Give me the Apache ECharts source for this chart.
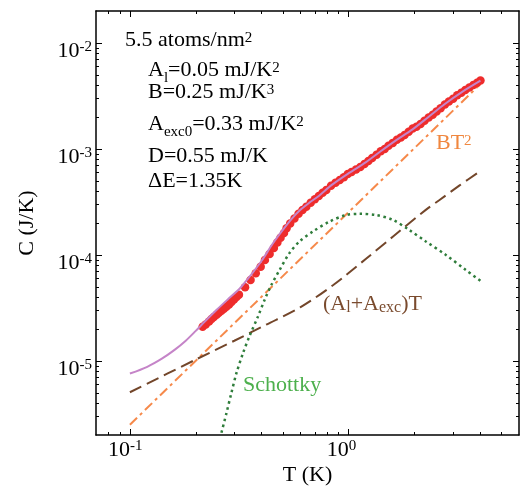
<!DOCTYPE html>
<html lang="en">
<head>
<meta charset="UTF-8">
<title>C(T) 5.5 atoms/nm2</title>
<style>
  html, body { margin: 0; padding: 0; background: #fff; }
  #chart { width: 521px; height: 491px; }
</style>
</head>
<body>
<div id="chart"></div>
<script src="https://cdn.jsdelivr.net/npm/echarts@6/dist/echarts.min.js"></script>
<script>
// measured heat capacity (red dots)
var dataT = [0.215, 0.222, 0.230, 0.236, 0.242, 0.249, 0.255, 0.262, 0.269, 0.276, 0.284, 0.291, 0.299, 0.307, 0.315,
  0.336, 0.356, 0.376, 0.396, 0.414, 0.435, 0.455, 0.472, 0.488, 0.506,
  0.52, 0.54, 0.565, 0.59, 0.615, 0.64, 0.67, 0.70, 0.73, 0.76, 0.79, 0.83, 0.87, 0.91, 0.95, 0.99,
  1.03, 1.08, 1.13, 1.18, 1.23, 1.28, 1.34, 1.40, 1.46, 1.52, 1.59, 1.66, 1.73, 1.80, 1.88, 1.96,
  2.04, 2.13, 2.22, 2.32, 2.42, 2.52, 2.63, 2.75, 2.87, 3.0, 3.13, 3.27, 3.41, 3.56, 3.71, 3.86, 4.0];
var dataC = [2.1e-5, 2.2e-5, 2.36e-5, 2.48e-5, 2.6e-5, 2.72e-5, 2.84e-5, 2.97e-5, 3.1e-5, 3.25e-5, 3.4e-5, 3.59e-5, 3.79e-5, 4.01e-5, 4.22e-5,
  4.95e-5, 5.8e-5, 6.7e-5, 7.75e-5, 8.95e-5, 1.02e-4, 1.16e-4, 1.31e-4, 1.45e-4, 1.61e-4,
  1.78e-4, 1.98e-4, 2.2e-4, 2.45e-4, 2.65e-4, 2.85e-4, 3.1e-4, 3.35e-4, 3.6e-4, 3.85e-4, 4.1e-4, 4.5e-4, 4.8e-4, 5.1e-4, 5.4e-4, 5.8e-4,
  6.05e-4, 6.4e-4, 6.75e-4, 7.2e-4, 7.7e-4, 8.2e-4, 8.8e-4, 9.5e-4, 1.0e-3, 1.07e-3, 1.14e-3, 1.22e-3, 1.28e-3, 1.35e-3, 1.45e-3, 1.56e-3,
  1.62e-3, 1.72e-3, 1.84e-3, 1.98e-3, 2.1e-3, 2.25e-3, 2.42e-3, 2.62e-3, 2.8e-3, 2.98e-3, 3.2e-3, 3.38e-3, 3.6e-3, 3.8e-3, 4.0e-3, 4.2e-3, 4.42e-3];

// total fit (purple)
var fitT = [0.1, 0.12, 0.14, 0.16, 0.18, 0.2, 0.22, 0.25, 0.28, 0.32, 0.36, 0.4, 0.45, 0.5, 0.55, 0.6, 0.66, 0.73, 0.84, 1.0, 1.2, 1.4, 1.65, 1.95, 2.3, 2.75, 3.3, 4.0];
var fitC = [7.6e-6, 8.8e-6, 1.05e-5, 1.27e-5, 1.55e-5, 1.92e-5, 2.35e-5, 3.05e-5, 3.8e-5, 4.9e-5, 6.6e-5, 8.8e-5, 1.28e-4, 1.72e-4, 2.2e-4, 2.65e-4, 3.1e-4, 3.6e-4, 4.6e-4, 5.9e-4, 7.5e-4, 9.5e-4, 1.21e-3, 1.52e-3, 1.98e-3, 2.65e-3, 3.45e-3, 4.4e-3];

// BT^2 (orange dash-dot)
var bT = [0.1, 4.0];
var bC = [2.5e-6, 4.1e-3];

// (Al+Aexc)T (brown dashed)
var linT = [0.1, 0.2, 0.3, 0.42, 0.6, 0.85, 1.2, 1.6, 2.25, 2.6, 3.2, 4.0];
var linC = [5.06e-6, 1.03e-5, 1.55e-5, 2.2e-5, 3.2e-5, 5.2e-5, 9.2e-5, 1.5e-4, 2.66e-4, 3.3e-4, 4.5e-4, 6.2e-4];

// Schottky (green dotted)
var schT = [0.262, 0.276, 0.291, 0.307, 0.329, 0.352, 0.385, 0.413, 0.443, 0.483, 0.536, 0.596, 0.685, 0.817, 0.973, 1.12, 1.33, 1.59, 1.89, 2.25, 2.78, 3.43, 4.0];
var schC = [2.1e-6, 3.2e-6, 5.0e-6, 7.7e-6, 1.19e-5, 1.71e-5, 2.63e-5, 3.78e-5, 5.2e-5, 7.2e-5, 1.04e-4, 1.34e-4, 1.66e-4, 2.06e-4, 2.38e-4, 2.44e-4, 2.38e-4, 2.14e-4, 1.72e-4, 1.34e-4, 1.0e-4, 7.2e-5, 5.7e-5];

// axes
var xMin = 0.07, xMax = 6;
var yMin = 2e-6, yMax = 2e-2;
var xMajor = [0.1, 1];
var xMinor = [0.08, 0.09, 0.2, 0.3, 0.4, 0.5, 0.6, 0.7, 0.8, 0.9, 2, 3, 4, 5];
var yMajor = [1e-5, 1e-4, 1e-3, 1e-2];
var yMinor = [3e-6, 4e-6, 5e-6, 6e-6, 7e-6, 8e-6, 9e-6,
  2e-5, 3e-5, 4e-5, 5e-5, 6e-5, 7e-5, 8e-5, 9e-5,
  2e-4, 3e-4, 4e-4, 5e-4, 6e-4, 7e-4, 8e-4, 9e-4,
  2e-3, 3e-3, 4e-3, 5e-3, 6e-3, 7e-3, 8e-3, 9e-3];

var FONT = 'Liberation Serif';

function zip(a, b) {
  return a.map(function (v, i) { return [v, b[i]]; });
}

function expOf(v) {
  return Math.round(Math.log(v) / Math.LN10);
}

// rich styles for tick labels 10^n
var tickRich = {
  b: { fontFamily: FONT, fontSize: 22, color: '#000', verticalAlign: 'top', height: 16 },
  s: { fontFamily: FONT, fontSize: 15, color: '#000', verticalAlign: 'top', height: 8 },
  pb: { fontFamily: FONT, fontSize: 22, color: 'rgba(0,0,0,0)', verticalAlign: 'top', height: 16 },
  ps: { fontFamily: FONT, fontSize: 15, color: 'rgba(0,0,0,0)', verticalAlign: 'top', height: 8 }
};

function makeAxis(kind, position, ticks, len, showLine, label) {
  var ax = {
    type: 'log',
    logBase: 10,
    min: kind === 'x' ? xMin : yMin,
    max: kind === 'x' ? xMax : yMax,
    position: position,
    axisLine: { show: showLine, lineStyle: { color: '#000', width: 1.5 } },
    axisTick: { show: true, inside: true, length: len, customValues: ticks, lineStyle: { color: '#000', width: 1 } },
    axisLabel: { show: false },
    splitLine: { show: false },
    minorTick: { show: false },
    minorSplitLine: { show: false }
  };
  if (label) ax.axisLabel = label;
  return ax;
}

var xLabel = {
  show: true,
  customValues: xMajor,
  margin: 7,
  rich: tickRich,
  formatter: function (v) {
    var e = expOf(v);
    return '{ps|' + e + '}{b|10}{s|' + e + '}{pb|10}';
  }
};
var yLabel = {
  show: true,
  customValues: yMajor,
  margin: 4,
  verticalAlign: 'top',
  rich: tickRich,
  formatter: function (v) {
    return '{b|10}{s|' + expOf(v) + '}';
  }
};

var xBottom = makeAxis('x', 'bottom', xMajor, 6, true, xLabel);
xBottom.name = 'T (K)';
xBottom.nameLocation = 'middle';
xBottom.nameGap = 29;
xBottom.nameMoveOverlap = false;
xBottom.nameTextStyle = { fontFamily: FONT, fontSize: 22, color: '#000' };

var yLeft = makeAxis('y', 'left', yMajor, 6, true, yLabel);
yLeft.name = 'C (J/K)';
yLeft.nameLocation = 'middle';
yLeft.nameGap = 58;
yLeft.nameMoveOverlap = false;
yLeft.nameTextStyle = { fontFamily: FONT, fontSize: 22, color: '#000' };

// annotation text
function richStyle(color) {
  return {
    m: { fontFamily: FONT, fontSize: 22, fill: color, verticalAlign: 'top' },
    sup: { fontFamily: FONT, fontSize: 15, fill: color, verticalAlign: 'top', padding: [1.3, 0, 0, 0] },
    sub: { fontFamily: FONT, fontSize: 15, fill: color, verticalAlign: 'top', padding: [11.8, 0, 0, 0] },
    low: { fontFamily: FONT, fontSize: 16, fill: color, verticalAlign: 'top', padding: [7, 0, 0, 0] }
  };
}

function note(x, y, text, color) {
  return {
    type: 'text',
    x: x,
    y: y,
    z: 100,
    style: {
      text: text,
      rich: richStyle(color),
      fill: color,
      font: '22px ' + FONT,
      align: 'left',
      verticalAlign: 'top'
    }
  };
}

var chart = echarts.init(document.getElementById('chart'));

var option = {
  backgroundColor: '#fff',
  animation: false,
  grid: { left: 96, right: 2, top: 11, bottom: 56, containLabel: false, outerBoundsMode: 'none' },
  xAxis: [
    xBottom,
    makeAxis('x', 'bottom', xMinor, 3, false),
    makeAxis('x', 'top', xMajor, 6, true),
    makeAxis('x', 'top', xMinor, 3, false)
  ],
  yAxis: [
    yLeft,
    makeAxis('y', 'left', yMinor, 3, false),
    makeAxis('y', 'right', yMajor, 6, true),
    makeAxis('y', 'right', yMinor, 3, false)
  ],
  series: [
    {
      name: 'BT2',
      type: 'line',
      data: zip(bT, bC),
      showSymbol: false,
      lineStyle: { color: '#f6894a', width: 2, type: [10, 4, 3, 4] },
      z: 2
    },
    {
      name: '(Al+Aexc)T',
      type: 'line',
      data: zip(linT, linC),
      showSymbol: false,
      smooth: 0.3,
      lineStyle: { color: '#73462a', width: 2, type: [13, 6] },
      z: 2
    },
    {
      name: 'Schottky',
      type: 'line',
      data: zip(schT, schC),
      showSymbol: false,
      smooth: 0.3,
      lineStyle: { color: '#2f7d3b', width: 2.5, type: [2.5, 3.5] },
      z: 2
    },
    {
      name: 'data',
      type: 'scatter',
      data: zip(dataT, dataC),
      symbol: 'circle',
      symbolSize: 8.5,
      itemStyle: { color: '#ee2c2c', opacity: 1 },
      z: 3
    },
    {
      name: 'fit',
      type: 'line',
      data: zip(fitT, fitC),
      showSymbol: false,
      smooth: 0.3,
      lineStyle: { color: '#c584c8', width: 2 },
      z: 4
    }
  ],
  graphic: [
    note(125, 29, '{m|5.5 atoms/nm}{sup|2}', '#000'),
    note(148, 59, '{m|A}{sub|l}{m|=0.05 mJ/K}{sup|2}', '#000'),
    note(148, 81, '{m|B=0.25 mJ/K}{sup|3}', '#000'),
    note(148, 113, '{m|A}{sub|exc0}{m|=0.33 mJ/K}{sup|2}', '#000'),
    note(148, 145, '{m|D=0.55 mJ/K}', '#000'),
    note(148, 170, '{m|\u0394E=1.35K}', '#000'),
    note(436, 132, '{m|BT}{sup|2}', '#f0873f'),
    note(323, 293, '{m|(A}{low|l}{m|+A}{low|exc}{m|)T}', '#7a4b2e'),
    note(243, 374, '{m|Schottky}', '#4db04d')
  ]
};

chart.setOption(option);
</script>
</body>
</html>
